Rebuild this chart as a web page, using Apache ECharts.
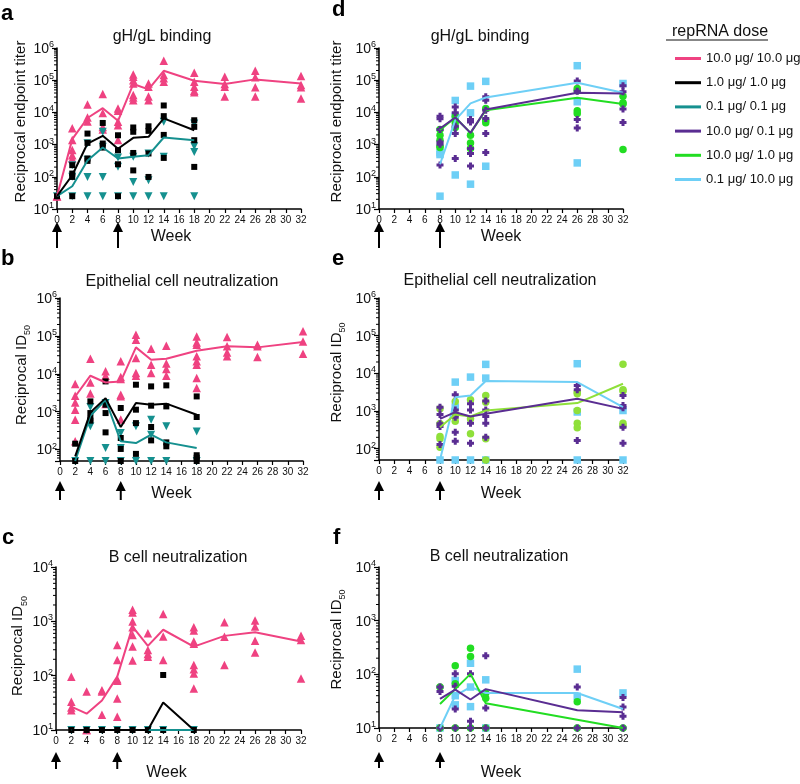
<!DOCTYPE html>
<html><head><meta charset="utf-8">
<script src="https://cdn.jsdelivr.net/npm/echarts@6/dist/echarts.min.js"></script>
<style>html,body{margin:0;padding:0;background:#fff}#c{width:800px;height:784px}</style>
</head><body><div id="c"></div>
<script>
// ---------- DATA ----------
const xTicks = [0,2,4,6,8,10,12,14,16,18,20,22,24,26,28,30,32];
const doseNames = ['10.0 μg/ 10.0 μg','1.0 μg/ 1.0 μg','0.1 μg/ 0.1 μg','10.0 μg/ 0.1 μg','10.0 μg/ 1.0 μg','0.1 μg/ 10.0 μg'];

// Panel a: gH/gL binding (homologous doses)
const a_pink_wk = [0,2,4,6,8,10,12,14,18,22,26,32];
const a_pink_pts = [[25,25,25],[3200,1400,680,470,370],[17700,6900,5200],[37000,9500,3500,2950],[13200,11200,5100,4000,1400],[151000,129000,100000,79000,34500,29000,24000],[79000,63000,31000,24000],[404000,145000,114000,89000],[171000,89000,63000,47000,42000],[128000,76000,63000,31000],[197000,123000,60000,31000],[135000,71000,60000,27000]];
const a_pink_gm = [25,1480,6700,13500,5500,76000,52000,196000,96000,76000,106000,79000];
const a_black_wk = [0,2,4,6,8,10,12,14,18];
const a_black_pts = [[25],[230,126,99,25],[2200,1130,370,312],[4700,1080,810],[1950,670,245,25],[3400,2500,550,158],[3700,2670,530,99],[16400,7650,2000,386],[5700,3560,1370,203]];
const a_black_gm = [25,112,1080,1870,740,1620,1740,6500,2800];
const a_teal_wk = [0,2,4,6,8,10,12,14,18];
const a_teal_pts = [[25],[25,100,230],[1100,340,99,25],[2500,850,99,25],[396,205,25],[420,69,25],[530,78,25],[5100,420,25],[4500,890,590,25]];
const a_teal_gm = [25,51,320,810,370,420,470,1660,1370];

// Panel b: epithelial cell neutralization
const b_pink_wk = [2,4,6,8,10,12,14,18,22,26,32];
const b_pink_pts = [[5400,2630,1760,1130,613,165],[25000,5900,3000],[11600,8900,1600],[21300,8200,7300,2800,2540,620],[108000,79000,26000,10500,8900],[46000,17400,10500],[55000,18600,13400,8900],[97000,67000,58000,29000,21400,17400,7700,4200],[93000,53000,36700,29000],[58000,53000,27700],[132000,71600,33800]];
const b_pink_gm = [2520,8900,5900,6300,49800,23600,25000,40500,53000,49800,69000];
const b_black_wk = [2,4,6,8,10,12,14,18];
const b_black_pts = [[143,50],[1870,920,650,580],[6300,1530,920,285],[1250,202,104,50],[5150,1130,500,77],[4650,1440,394,175],[4950,1380,155,122],[2530,725,71,61,50]];
const b_black_gm = [66,960,2280,394,1700,1530,1630,830];
const b_teal_wk = [2,4,6,8,10,12,14,18];
const b_teal_pts = [[50],[1330,410,50],[1690,110,50],[274,110,50],[410,50],[616,247,50],[410,50],[302,50]];
const b_teal_gm = [50,780,2070,165,149,247,155,110];

// Panel c: B cell neutralization
const c_pink_wk = [2,4,6,8,10,12,14,18,22,26,32];
const c_pink_pts = [[96,33,26,23],[51,10,10],[54,51,19],[368,195,86,81,38,17.5],[1630,1460,990,780,562,344,190],[605,298,251,224],[1370,525,195],[780,677,425,385,157,131,110,58],[964,520,157],[1035,800,437,266],[540,455,89]];
const c_pink_gm = [27,20,35,96,800,353,700,343,540,630,425];
const c_black_wk = [2,4,6,8,10,12,14,18];
const c_black_pts = [[10],[10],[10],[10],[10],[10],[103,10],[10]];
const c_black_gm = [10,10,10,10,10,10,32,10];
const c_teal_wk = [2,4,6,8,10,12,14,18];
const c_teal_pts = [[10],[10],[10],[10],[10],[10],[10],[10]];
const c_teal_gm = [10,10,10,10,10,10,10,10];

// Right panels (heterologous doses)
const r_wk = [8,10,12,14,26,32];
const d_blue_pts = [[560,490,25],[23500,7650,114],[65600,9700,59],[92000,213],[282000,21400,270],[79000]];
const d_blue_gm = [245,5740,19000,29000,83000,40600];
const d_purple_pts = [[7650,6350,2950,1215,1030,234],[14600,9700,3740,2210,368],[6000,5000,760,530,218],[30500,24000,11700,6500,2200,570],[94000,45000,6000,3300],[67000,43500,12700,4860]];
const d_purple_gm = [3160,6960,2320,12300,40600,38800];
const d_green_pts = [[2950,1960,1370,890,810],[7650,4750,3400],[1960,1130,753],[13200,5740,4750],[55600,47000,11200,9300],[32000,19900,18100,700]];
const d_green_gm = [2820,6960,2320,11700,28400,18100];

const e_blue_pts = [[50],[5850,1265,50],[7950,50],[17300,7470,50],[18000,940,50],[1030,50]];
const e_blue_gm = [50,2330,2590,6220,5850,1265];
const e_purple_pts = [[1265,807,457,387,128],[2690,1070,686,274,158],[1550,1070,476,140],[1830,1070,714,476,201],[4760,3650,165],[2580,1400,1215,370,140]];
const e_purple_gm = [620,930,714,840,2110,1140];
const e_green_pts = [[1140,457,210,182,109],[1790,807,537],[1980,620,247],[2580,1700,182,50],[3170,2860,1030,476,357],[17300,3650,3370,476,412]];
const e_green_gm = [372,807,714,1030,1620,5280];

const f_blue_pts = [[10],[77,40,27],[161,58,25],[79,10],[125,39],[45]];
const f_blue_gm = [10,40,58,45,45,22.6];
const f_purple_pts = [[58,48,10],[102,60,22.6,10],[102,13.3,10],[221,23.6,10],[58,10],[37,24.6,16.5,10]];
const f_purple_gm = [35,52,34,53,21.4,19.6];
const f_green_pts = [[58,10],[144,67,10],[306,214,10],[45,36,10],[31,10],[10]];
const f_green_gm = [28,53,102,29,14.3,10];

// ---------- STYLE ----------
const FONT = 'Liberation Sans, Arial, Helvetica, sans-serif';
const C = {pink:'#EF4281', black:'#000000', teal:'#15908F', purple:'#5A2D92', green:'#22DD22', lime:'#8FE03A', blue:'#6ECFF6'};
const PLUS = 'path://M2,0H5V2H7V5H5V7H2V5H0V2H2Z';
const MK = {
  pink:{symbol:'triangle', size:8.5, rot:0},
  black:{symbol:'rect', size:6, rot:0},
  teal:{symbol:'triangle', size:8, rot:180},
  purple:{symbol:PLUS, size:7, rot:0},
  green:{symbol:'circle', size:7.5, rot:0},
  lime:{symbol:'circle', size:7.5, rot:0},
  blue:{symbol:'rect', size:7.5, rot:0}
};

const panels = [
  {key:'a', title:'gH/gL binding', tx:162, ty:37, lx:1, ly:14, left:57, top:48, w:244, h:161, ymin:10, ymax:1e6, yname:'Reciprocal endpoint titer', nameGap:29, namePad:[0,0,0,14], weekGap:20, weekPad:[0,16,0,0], arrowOff:13, arrowLen:26,
   groups:[['pink',a_pink_wk,a_pink_pts,a_pink_gm,0],['teal',a_teal_wk,a_teal_pts,a_teal_gm,2],['black',a_black_wk,a_black_pts,a_black_gm,1]]},
  {key:'b', title:'Epithelial cell neutralization', tx:182, ty:282, lx:1, ly:259, left:60, top:298, w:243, h:163, ymin:50, ymax:1e6, yname:'{n|Reciprocal ID}{s|50}', nameGap:31, namePad:[0,0,0,9], weekGap:25, weekPad:[0,20,0,0], arrowOff:20, arrowLen:19,
   groups:[['pink',b_pink_wk,b_pink_pts,b_pink_gm,0],['teal',b_teal_wk,b_teal_pts,b_teal_gm,2],['black',b_black_wk,b_black_pts,b_black_gm,1]]},
  {key:'c', title:'B cell neutralization', tx:178, ty:558, lx:2, ly:538, left:56, top:567, w:245, h:163, ymin:10, ymax:1e4, yname:'{n|Reciprocal ID}{s|50}', nameGap:29, namePad:[0,0,0,5], weekGap:35, weekPad:[0,24,0,0], arrowOff:22, arrowLen:17,
   groups:[['pink',c_pink_wk,c_pink_pts,c_pink_gm,0],['teal',c_teal_wk,c_teal_pts,c_teal_gm,2],['black',c_black_wk,c_black_pts,c_black_gm,1]]},
  {key:'d', title:'gH/gL binding', tx:480, ty:37, lx:332, ly:10, left:379, top:48, w:244, h:161, ymin:10, ymax:1e6, yname:'Reciprocal endpoint titer', nameGap:35, namePad:[0,0,0,14], weekGap:20, weekPad:0, arrowOff:13, arrowLen:26,
   groups:[['blue',r_wk,d_blue_pts,d_blue_gm,5],['green',r_wk,d_green_pts,d_green_gm,4],['purple',r_wk,d_purple_pts,d_purple_gm,3]]},
  {key:'e', title:'Epithelial cell neutralization', tx:500, ty:281, lx:332, ly:259, left:379, top:298, w:244, h:162, ymin:50, ymax:1e6, yname:'{n|Reciprocal ID}{s|50}', nameGap:35, namePad:[0,0,0,13], weekGap:26, weekPad:0, arrowOff:21, arrowLen:19,
   groups:[['blue',r_wk,e_blue_pts,e_blue_gm,5],['lime',r_wk,e_green_pts,e_green_gm,4],['purple',r_wk,e_purple_pts,e_purple_gm,3]]},
  {key:'f', title:'B cell neutralization', tx:499, ty:557, lx:333, ly:538, left:379, top:567, w:244, h:161, ymin:10, ymax:1e4, yname:'{n|Reciprocal ID}{s|50}', nameGap:35, namePad:[0,0,0,16], weekGap:37, weekPad:0, arrowOff:24, arrowLen:16,
   groups:[['blue',r_wk,f_blue_pts,f_blue_gm,5],['green',r_wk,f_green_pts,f_green_gm,4],['purple',r_wk,f_purple_pts,f_purple_gm,3]]}
];

function toPts(wk, groups){ const out=[]; wk.forEach((w,i)=>groups[i].forEach(v=>out.push([w,v]))); return out; }
function toLine(wk, gm){ return wk.map((w,i)=>[w,gm[i]]); }
function minorVals(lo, hi){ const out=[]; for(let d=Math.floor(Math.log10(lo)); d<Math.log10(hi); d++){ for(let k=2;k<=9;k++){ const v=k*Math.pow(10,d); if(v>lo*1.0001 && v<hi) out.push([0,v]); } } return out; }

const grid=[], xAxis=[], yAxis=[], series=[], graphic=[];
panels.forEach((p,i)=>{
  grid.push({left:p.left, top:p.top, width:p.w, height:p.h, containLabel:false, outerBoundsMode:'none'});
  xAxis.push({type:'value', gridIndex:i, min:0, max:32, interval:2,
    axisLine:{onZero:false, lineStyle:{color:'#000', width:1.5}},
    axisTick:{length:4, lineStyle:{color:'#000', width:1.2}},
    axisLabel:{fontSize:10, margin:6, color:'#111', fontFamily:FONT},
    splitLine:{show:false},
    name:'Week', nameLocation:'middle', nameGap:p.weekGap,
    nameTextStyle:{fontSize:16, color:'#111', fontFamily:FONT, padding:p.weekPad}});
  yAxis.push({type:'log', logBase:10, gridIndex:i, min:p.ymin, max:p.ymax,
    axisLine:{show:true, lineStyle:{color:'#000', width:1.5}},
    axisTick:{show:true, length:5, lineStyle:{color:'#000', width:1.2}},
    splitLine:{show:false},
    axisLabel:{margin:3, color:'#111',
      formatter:(v)=>{ const e=Math.log10(v), r=Math.round(e); if(Math.abs(e-r)>1e-6) return ''; return '{b|10}{s|'+r+'}'; },
      rich:{b:{fontSize:14, fontFamily:FONT, color:'#111', lineHeight:16, verticalAlign:'bottom'}, s:{fontSize:9, fontFamily:FONT, color:'#111', lineHeight:9, verticalAlign:'top'}}},
    name:p.yname, nameLocation:'middle', nameGap:p.nameGap, nameRotate:90,
    nameTextStyle:{fontSize:15, color:'#111', fontFamily:FONT, padding:p.namePad,
      rich:{n:{fontSize:15, fontFamily:FONT, color:'#111', lineHeight:18, verticalAlign:'bottom'}, s:{fontSize:9, fontFamily:FONT, color:'#111', lineHeight:9, verticalAlign:'bottom', padding:[0,0,-3,0]}}}});
  // minor log ticks
  series.push({type:'custom', xAxisIndex:i, yAxisIndex:i, silent:true, clip:false, data:minorVals(p.ymin,p.ymax),
    renderItem:(params, api)=>{ const pt=api.coord([api.value(0), api.value(1)]); return {type:'line', shape:{x1:pt[0]-3, y1:pt[1], x2:pt[0], y2:pt[1]}, style:{stroke:'#000', lineWidth:1}}; }});
  p.groups.forEach(g=>{
    const [col, wk, pts] = g; const m = MK[col];
    series.push({type:'scatter', name:col+'_pts_'+p.key, xAxisIndex:i, yAxisIndex:i, data:toPts(wk,pts),
      symbol:m.symbol, symbolSize:m.size, symbolRotate:m.rot, itemStyle:{color:C[col], opacity:1}, silent:true, z:3});
  });
  p.groups.forEach(g=>{
    const [col, wk, pts, gm, di] = g;
    series.push({type:'line', name:doseNames[di], xAxisIndex:i, yAxisIndex:i, data:toLine(wk,gm),
      symbol:'none', lineStyle:{color:C[col], width:2}, itemStyle:{color:C[col]}, silent:true, z:4});
  });
  graphic.push({type:'text', x:p.lx, y:p.ly, style:{text:p.key, fontSize:22, fontWeight:'bold', fontFamily:FONT, fill:'#000', align:'left', verticalAlign:'middle'}});
  graphic.push({type:'text', x:p.tx, y:p.ty, style:{text:p.title, fontSize:16, fontFamily:FONT, fill:'#111', align:'center', verticalAlign:'middle'}});
});

graphic.push({type:'text', x:672, y:32, style:{text:'repRNA dose', fontSize:16, fontFamily:FONT, fill:'#111', align:'left', verticalAlign:'middle'}});
graphic.push({type:'line', shape:{x1:666, y1:40, x2:768, y2:40}, style:{stroke:'#111', lineWidth:1}});

const chart = echarts.init(document.getElementById('c'));
chart.setOption({
  animation:false, backgroundColor:'#fff',
  textStyle:{fontFamily:FONT},
  grid, xAxis, yAxis, series, graphic,
  legend:{data:doseNames, orient:'vertical', left:670, top:47, itemWidth:26, itemHeight:3, itemGap:11.2, icon:'rect', selectedMode:false,
    textStyle:{fontSize:13, color:'#111', fontFamily:FONT}}
});

// arrows marking immunizations at weeks 0 and 8, placed with the axes' own scales
const arrowWeeks = [0, 8];
const arrows = [];
panels.forEach((p,i)=>{
  arrowWeeks.forEach(w=>{
    const pt = chart.convertToPixel({gridIndex:i}, [w, p.ymin]);
    const x = pt[0], tip = pt[1] + p.arrowOff;
    arrows.push({type:'polygon', shape:{points:[[x,tip],[x-5,tip+10],[x+5,tip+10]]}, style:{fill:'#000'}});
    arrows.push({type:'rect', shape:{x:x-1, y:tip+9, width:2, height:p.arrowLen-9}, style:{fill:'#000'}});
  });
});
chart.setOption({graphic: graphic.concat(arrows)});
</script></body></html>
